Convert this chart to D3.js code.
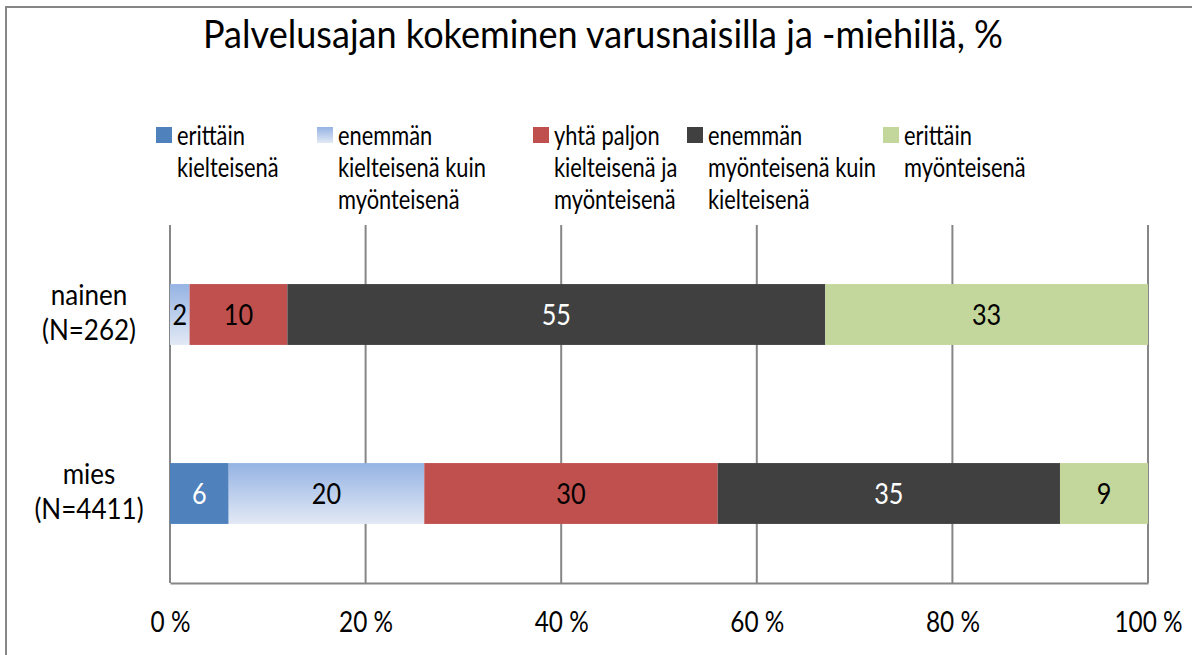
<!DOCTYPE html>
<html>
<head>
<meta charset="utf-8">
<script src="https://cdn.jsdelivr.net/npm/d3@7"></script>
<style>
  body { margin: 0; background: #fff; }
  svg text { font-family: Lato, "Open Sans", sans-serif; fill: #000; }
</style>
</head>
<body>
<div id="chart"></div>
<script>
// Chart data.
var title = "Palvelusajan kokeminen varusnaisilla ja -miehillä, %";
var categories = [["nainen", "(N=262)"], ["mies", "(N=4411)"]];
var seriesNames = [
  ["erittäin", "kielteisenä"],
  ["enemmän", "kielteisenä kuin", "myönteisenä"],
  ["yhtä paljon", "kielteisenä ja", "myönteisenä"],
  ["enemmän", "myönteisenä kuin", "kielteisenä"],
  ["erittäin", "myönteisenä"]
];
var erittainKielteisena = [0, 6];
var enemmanKielteisena = [2, 20];
var yhtaPaljon = [10, 30];
var enemmanMyonteisena = [55, 35];
var erittainMyonteisena = [33, 9];
var tickValues = [0, 20, 40, 60, 80, 100];

var seriesValues = [erittainKielteisena, enemmanKielteisena, yhtaPaljon,
                    enemmanMyonteisena, erittainMyonteisena];
var fills = ["#4F81BD", "url(#grad)", "#C0504D", "#404040", "#C3D69B"];
var labelColors = ["#fff", "#000", "#000", "#fff", "#000"];
var legendX = [156, 317, 533, 687, 883];

var width = 1192, height = 655;
var plot = { left: 170, right: 1148, top: 225, bottom: 583 };
// Lato is wider than the original font, so text is squeezed a little.
var squeeze = 0.87;

var svg = d3.select("#chart").append("svg")
  .attr("width", width)
  .attr("height", height);

// Gradient used by the second series.
var grad = svg.append("defs").append("linearGradient")
  .attr("id", "grad")
  .attr("x1", 0).attr("y1", 0).attr("x2", 0).attr("y2", 1);
grad.append("stop").attr("offset", "0%").attr("stop-color", "#95B3E3");
grad.append("stop").attr("offset", "100%").attr("stop-color", "#E2E9F5");

// Outer chart frame.
svg.append("rect")
  .attr("x", 6).attr("y", 7)
  .attr("width", 1300).attr("height", 800)
  .attr("fill", "none")
  .attr("stroke", "#868686")
  .attr("stroke-width", 2);

svg.append("text")
  .attr("transform", "translate(603,48) scale(0.95,1)")
  .attr("text-anchor", "middle")
  .style("font-size", "38px")
  .text(title);

var x = d3.scaleLinear().domain([0, 100]).range([plot.left, plot.right]);
var y = d3.scaleBand()
  .domain(d3.range(categories.length))
  .range([plot.top, plot.bottom])
  .paddingInner(0.66)
  .paddingOuter(0.33);

// Gridlines.
svg.append("g").selectAll("line")
  .data(tickValues.slice(1))
  .join("line")
  .attr("x1", function (d) { return x(d); })
  .attr("x2", function (d) { return x(d); })
  .attr("y1", plot.top).attr("y2", plot.bottom)
  .attr("stroke", "#868686")
  .attr("stroke-width", 2);

// Value axis along the bottom.
var xAxis = svg.append("g")
  .attr("transform", "translate(0," + plot.bottom + ")")
  .call(d3.axisBottom(x).tickValues(tickValues).tickSize(0).tickPadding(29)
    .tickFormat(function (d) { return d + " %"; }));
xAxis.select(".domain").attr("stroke", "#868686").attr("stroke-width", 2);
xAxis.selectAll("text")
  .style("font-size", "28px")
  .style("font-family", "Lato, sans-serif")
  .attr("transform", "scale(" + squeeze + ",1)");

// Category axis line.
svg.append("line")
  .attr("x1", plot.left).attr("x2", plot.left)
  .attr("y1", plot.top).attr("y2", plot.bottom)
  .attr("stroke", "#868686")
  .attr("stroke-width", 2);

// Category labels.
var catLabels = svg.append("g").selectAll("text")
  .data(categories)
  .join("text")
  .attr("text-anchor", "middle")
  .style("font-size", "28px")
  .attr("transform", function (d, i) {
    return "translate(89," + (y(i) + y.bandwidth() / 2 - 10) + ") scale(0.93,1)";
  });
catLabels.selectAll("tspan")
  .data(function (d) { return d; })
  .join("tspan")
  .attr("x", 0)
  .attr("dy", function (d, i) { return i === 0 ? 0 : 36; })
  .text(function (d) { return d; });

// Stacked bars.
var stackData = categories.map(function (c, i) {
  var row = { index: i };
  seriesValues.forEach(function (s, k) { row[k] = s[i]; });
  return row;
});
var stacked = d3.stack().keys(d3.range(seriesValues.length))(stackData);

var layers = svg.append("g").selectAll("g")
  .data(stacked)
  .join("g");

layers.selectAll("rect")
  .data(function (d) { return d; })
  .join("rect")
  .attr("x", function (d) { return x(d[0]); })
  .attr("y", function (d) { return y(d.data.index); })
  .attr("width", function (d) { return x(d[1]) - x(d[0]); })
  .attr("height", y.bandwidth())
  .attr("fill", function (d) { return fills[d3.select(this.parentNode).datum().key]; });

layers.each(function (layer) {
  d3.select(this).selectAll("text")
    .data(layer.filter(function (d) { return d[1] - d[0] > 0; }))
    .join("text")
    .attr("transform", function (d) {
      return "translate(" + (x(d[0]) + x(d[1])) / 2 + "," +
        (y(d.data.index) + y.bandwidth() / 2 + 10) + ") scale(" + squeeze + ",1)";
    })
    .attr("text-anchor", "middle")
    .style("font-size", "29px")
    .style("fill", labelColors[layer.key])
    .text(function (d) { return d[1] - d[0]; });
});

// Legend.
var legend = svg.append("g").selectAll("g")
  .data(seriesNames)
  .join("g")
  .attr("transform", function (d, i) { return "translate(" + legendX[i] + ",127)"; });
legend.append("rect")
  .attr("width", 16).attr("height", 16)
  .attr("fill", function (d, i) { return fills[i]; });
legend.append("text")
  .attr("transform", "translate(21,18) scale(0.84,1)")
  .style("font-size", "26px")
  .selectAll("tspan")
  .data(function (d) { return d; })
  .join("tspan")
  .attr("x", 0)
  .attr("dy", function (d, i) { return i === 0 ? 0 : 32; })
  .text(function (d) { return d; });
</script>
</body>
</html>
